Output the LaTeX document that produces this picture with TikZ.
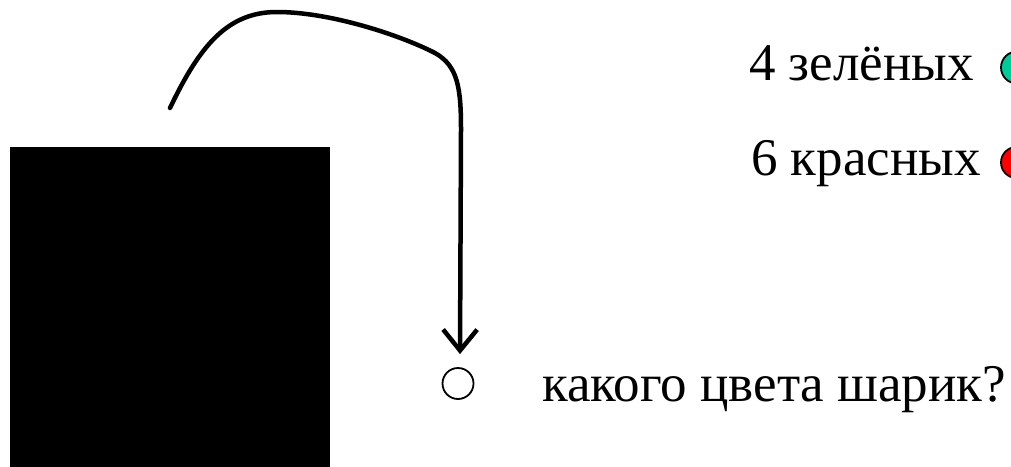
\documentclass[tikz,border=0pt]{standalone}
\usepackage{fontspec}
\setmainfont{Liberation Serif}
\usetikzlibrary{arrows.meta}
\definecolor{mint}{RGB}{0,204,153}
\tikzset{
  lbl/.style={anchor=base west, inner sep=0pt, font=\fontsize{53}{60}\selectfont},
  ball/.style={circle, draw=black, line width=1.8pt, minimum size=#1, inner sep=0pt},
  flow/.style={line width=4.5pt, line cap=round, -{Straight Barb[length=21pt,width=34pt,line width=4.5pt]}}
}
\begin{document}
\begin{tikzpicture}[x=1pt,y=-1pt]
  \useasboundingbox (0,0) rectangle (1011,466);
  % black square
  \node[fill=black, inner sep=0pt, minimum width=320pt, minimum height=330pt, anchor=north west] (box) at (10,147) {};
  % labels and balls on the right
  \node[lbl] (green) at (749,80) {4 зелёных};
  \node[ball=32pt, fill=mint] (gball) at (1017,67.5) {};
  \node[lbl] (red) at (751,175) {6 красных};
  \node[ball=31pt, fill=red] (rball) at (1016.5,162.5) {};
  % empty ball and question
  \node[ball=31pt, fill=white] (qball) at (458,383.5) {};
  \node[lbl] (question) at (542,401) {какого цвета шарик?};
  % the arc from the square to the empty ball
  \coordinate (start) at (170,108);
  \draw[flow] (start) .. controls (200,45) and (228,12) .. (277,12)
    .. controls (330,12) and (400,35) .. (435,53)
    .. controls (458,66) and (461,88) .. (461,130)
    -- ([xshift=2pt,yshift=13pt]qball.north);
\end{tikzpicture}
\end{document}
